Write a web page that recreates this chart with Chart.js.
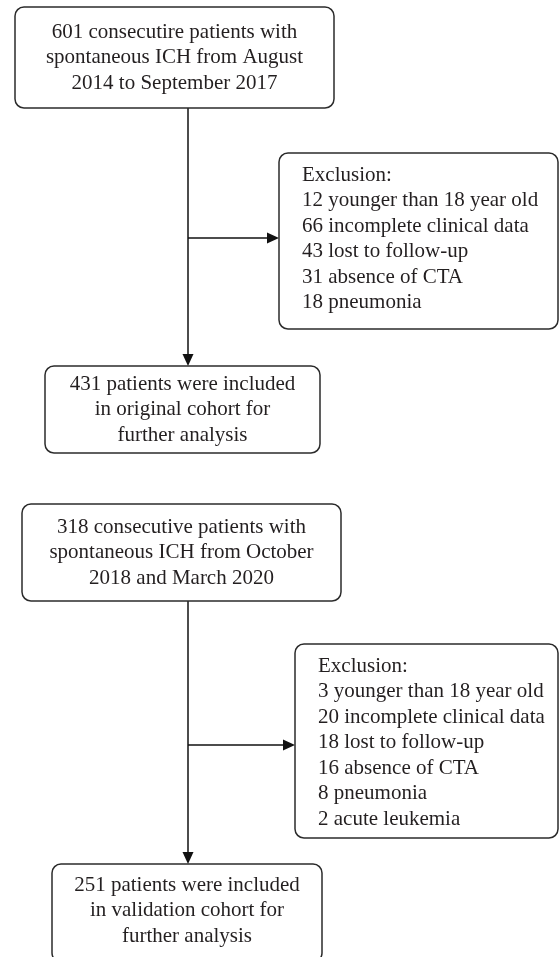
<!DOCTYPE html>
<html>
<head>
<meta charset="utf-8">
<script src="https://cdn.jsdelivr.net/npm/chart.js@4.4.1/dist/chart.umd.min.js"></script>
<style>
  html, body { margin: 0; padding: 0; background: #fff; }
  #wrap { width: 559px; height: 957px; }
</style>
</head>
<body>
<div id="wrap"><canvas id="myChart" width="559" height="957"></canvas></div>
<script>
// flowchart texts (one array per box)
const screenedA = ['601 consecutire patients with', 'spontaneous ICH from August', '2014 to September 2017'];
const excludedA = ['Exclusion:', '12 younger than 18 year old', '66 incomplete clinical data',
                   '43 lost to follow-up', '31 absence of CTA', '18 pneumonia'];
const includedA = ['431 patients were included', 'in original cohort for', 'further analysis'];

const screenedB = ['318 consecutive patients with', 'spontaneous ICH from October', '2018 and March 2020'];
const excludedB = ['Exclusion:', '3 younger than 18 year old', '20 incomplete clinical data',
                   '18 lost to follow-up', '16 absence of CTA', '8 pneumonia', '2 acute leukemia'];
const includedB = ['251 patients were included', 'in validation cohort for', 'further analysis'];

// layout in axis units (x: 0..559, y: 0..957 top-down)
const boxes = [
  { lines: screenedA, x0: 15,  x1: 334, y0: 7,   y1: 108, align: 'center' },
  { lines: excludedA, x0: 279, x1: 558, y0: 153, y1: 329, align: 'left' },
  { lines: includedA, x0: 45,  x1: 320, y0: 366, y1: 453, align: 'center' },
  { lines: screenedB, x0: 22,  x1: 341, y0: 504, y1: 601, align: 'center' },
  { lines: excludedB, x0: 295, x1: 558, y0: 644, y1: 838, align: 'left' },
  { lines: includedB, x0: 52,  x1: 322, y0: 864, y1: 962, align: 'center' }
];
// [x, y0, y1] vertical arrows, [y, x0, x1] side arrows
const vArrows = [[188, 108, 366], [188, 601, 864]];
const hArrows = [[238, 188, 279], [745, 188, 295]];

const LINE_H = 25.5;
const FONT = '21px "Liberation Serif", "DejaVu Serif", serif';

const flowPlugin = {
  id: 'flow',
  afterDraw(chart) {
    const ctx = chart.ctx;
    const sx = chart.scales.x, sy = chart.scales.y;
    const px = v => sx.getPixelForValue(v);
    const py = v => sy.getPixelForValue(v);
    ctx.save();

    // connectors
    ctx.strokeStyle = '#111';
    ctx.fillStyle = '#111';
    ctx.lineWidth = 1.5;
    vArrows.forEach(a => {
      const x = px(a[0]), y0 = py(a[1]), y1 = py(a[2]);
      ctx.beginPath(); ctx.moveTo(x, y0); ctx.lineTo(x, y1 - 10); ctx.stroke();
      ctx.beginPath(); ctx.moveTo(x - 5.5, y1 - 12); ctx.lineTo(x + 5.5, y1 - 12); ctx.lineTo(x, y1); ctx.closePath(); ctx.fill();
    });
    hArrows.forEach(a => {
      const y = py(a[0]), x0 = px(a[1]), x1 = px(a[2]);
      ctx.beginPath(); ctx.moveTo(x0, y); ctx.lineTo(x1 - 10, y); ctx.stroke();
      ctx.beginPath(); ctx.moveTo(x1 - 12, y - 5.5); ctx.lineTo(x1 - 12, y + 5.5); ctx.lineTo(x1, y); ctx.closePath(); ctx.fill();
    });

    // boxes
    boxes.forEach(b => {
      const x0 = px(b.x0), x1 = px(b.x1), y0 = py(b.y0), y1 = py(b.y1);
      ctx.strokeStyle = '#2b2b2b';
      ctx.lineWidth = 1.5;
      ctx.beginPath();
      ctx.roundRect(x0, y0, x1 - x0, y1 - y0, 9);
      ctx.stroke();

      ctx.fillStyle = '#231f20';
      ctx.font = FONT;
      ctx.textBaseline = 'middle';
      const n = b.lines.length;
      const cy = (y0 + Math.min(y1, 957)) / 2;
      let top = b.align === 'left' ? y0 + 22 : cy - (n - 1) * LINE_H / 2;
      b.lines.forEach((t, i) => {
        if (b.align === 'left') {
          ctx.textAlign = 'left';
          ctx.fillText(t, x0 + 23, top + i * LINE_H);
        } else {
          ctx.textAlign = 'center';
          ctx.fillText(t, (x0 + x1) / 2, top + i * LINE_H);
        }
      });
    });
    ctx.restore();
  }
};

const config = {
  type: 'scatter',
  data: { datasets: [{ data: [], pointRadius: 0 }] },
  options: {
    responsive: false,
    animation: false,
    layout: { padding: 0 },
    plugins: { legend: { display: false }, tooltip: { enabled: false } },
    scales: {
      x: { type: 'linear', min: 0, max: 559, display: false },
      y: { type: 'linear', min: 0, max: 957, reverse: true, display: false }
    }
  },
  plugins: [flowPlugin]
};

new Chart(document.getElementById('myChart'), config);
</script>
</body>
</html>
